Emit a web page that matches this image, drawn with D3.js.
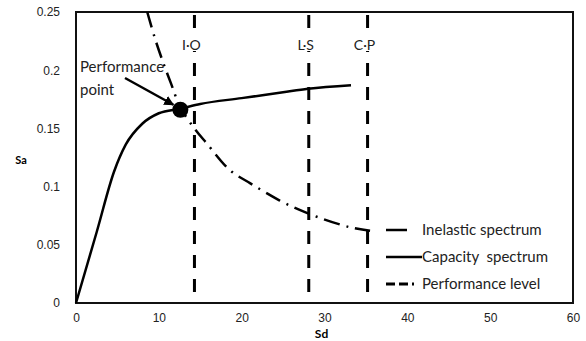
<!DOCTYPE html>
<html>
<head>
<meta charset="utf-8">
<script src="https://cdn.jsdelivr.net/npm/d3@7"></script>
<style>
  body { margin: 0; background: #fff; }
  svg { display: block; font-family: Lato, "Open Sans", sans-serif; }
</style>
</head>
<body>
<svg id="chart" width="586" height="341"></svg>
<script>
// capacity spectrum (Sd, Sa)
const capacitySd = [0, 2.5, 4.6, 6, 8, 10, 12.6, 15, 20, 25, 28, 33.2];
const capacitySa = [0, 0.061, 0.113, 0.136, 0.154, 0.163, 0.167, 0.171, 0.176, 0.181, 0.184, 0.187];

// inelastic demand spectrum (Sd, Sa)
const inelasticSd = [8.6, 9.5, 10.4, 11.5, 12.6, 14.4, 15.8, 18.6, 21, 24.6, 27, 29.5, 33.1, 35.5];
const inelasticSa = [0.25, 0.228, 0.209, 0.188, 0.168, 0.149, 0.137, 0.114, 0.103, 0.088, 0.080, 0.073, 0.065, 0.062];

// performance levels
const levelNames = ["I·O", "L·S", "C·P"];
const levelSd = [14.3, 28.1, 35.2];

const perfPoint = [12.6, 0.166];

const xTicks = [0, 10, 20, 30, 40, 50, 60];
const yTicks = [0, 0.05, 0.1, 0.15, 0.2, 0.25];

const legendNames = ["Inelastic spectrum", "Capacity  spectrum", "Performance level"];

const svg = d3.select("#chart");
const margin = { left: 76, right: 13, top: 12, bottom: 38 };
const width = 586 - margin.left - margin.right;
const height = 341 - margin.top - margin.bottom;

const x = d3.scaleLinear().domain([0, 60]).range([margin.left, margin.left + width]);
const y = d3.scaleLinear().domain([0, 0.25]).range([margin.top + height, margin.top]);

// plot border
svg.append("rect")
  .attr("x", x(0))
  .attr("y", y(0.25))
  .attr("width", x(60) - x(0))
  .attr("height", y(0) - y(0.25))
  .style("fill", "none")
  .style("stroke", "#111")
  .style("stroke-width", 2);

// axes (labels only)
const xAxis = svg.append("g")
  .attr("transform", "translate(0," + y(0) + ")")
  .call(d3.axisBottom(x).tickValues(xTicks).tickSize(0).tickPadding(10).tickFormat(d3.format("d")));
xAxis.select(".domain").remove();
xAxis.selectAll("text").style("font-size", "12px").style("fill", "#222");

const yAxis = svg.append("g")
  .attr("transform", "translate(" + x(0) + ",0)")
  .call(d3.axisLeft(y).tickValues(yTicks).tickSize(0).tickPadding(16)
    .tickFormat(d => d === 0 ? "0" : String(+d.toFixed(2))));
yAxis.select(".domain").remove();
yAxis.selectAll("text").style("font-size", "12px").style("fill", "#222");

svg.append("text")
  .attr("x", (x(0) + x(60)) / 2 - 3)
  .attr("y", 338)
  .style("font-size", "12px")
  .style("font-weight", "bold")
  .attr("text-anchor", "middle")
  .text("Sd");

svg.append("text")
  .attr("x", 21)
  .attr("y", 164)
  .style("font-size", "11px")
  .style("font-weight", "bold")
  .attr("text-anchor", "middle")
  .text("Sa");

// performance level lines
const levels = svg.append("g");
levelSd.forEach((sd, i) => {
  levels.append("line")
    .attr("x1", x(sd)).attr("x2", x(sd))
    .attr("y1", y(0.25) + 3).attr("y2", y(0))
    .style("stroke", "#000")
    .style("stroke-width", 3)
    .style("stroke-dasharray", "13,11");
  levels.append("rect")
    .attr("x", x(sd) - 12).attr("y", 36)
    .attr("width", 24).attr("height", 15)
    .style("fill", "#fff");
  levels.append("text")
    .attr("x", x(sd) - 3)
    .attr("y", 50)
    .attr("text-anchor", "middle")
    .style("font-size", "14px")
    .style("fill", "#222")
    .text(levelNames[i]);
});

// inelastic spectrum
const inelastic = d3.zip(inelasticSd, inelasticSa);
svg.append("path")
  .datum(inelastic)
  .attr("d", d3.line().x(d => x(d[0])).y(d => y(d[1])).curve(d3.curveCatmullRom))
  .style("fill", "none")
  .style("stroke", "#000")
  .style("stroke-width", 2.5)
  .style("stroke-dasharray", "16,7,2,7");

// capacity spectrum
const capacity = d3.zip(capacitySd, capacitySa);
svg.append("path")
  .datum(capacity)
  .attr("d", d3.line().x(d => x(d[0])).y(d => y(d[1])).curve(d3.curveMonotoneX))
  .style("fill", "none")
  .style("stroke", "#000")
  .style("stroke-width", 2.5);

// performance point
svg.append("circle")
  .attr("cx", x(perfPoint[0]))
  .attr("cy", y(perfPoint[1]))
  .attr("r", 8)
  .style("fill", "#000");

svg.append("defs").append("marker")
  .attr("id", "arrow")
  .attr("viewBox", "0 0 10 10")
  .attr("refX", 9).attr("refY", 5)
  .attr("markerWidth", 4).attr("markerHeight", 4)
  .attr("orient", "auto")
  .append("path")
  .attr("d", "M0,0L10,5L0,10z")
  .style("fill", "#000");

svg.append("line")
  .attr("x1", 125).attr("y1", 78)
  .attr("x2", x(perfPoint[0]) - 7).attr("y2", y(perfPoint[1]) - 5)
  .style("stroke", "#000")
  .style("stroke-width", 2.5)
  .attr("marker-end", "url(#arrow)");

svg.append("text")
  .attr("x", 80).attr("y", 72)
  .style("font-size", "15px")
  .style("fill", "#222")
  .text("Performance");
svg.append("text")
  .attr("x", 80).attr("y", 95)
  .style("font-size", "15px")
  .style("fill", "#222")
  .text("point");

// legend
const legend = svg.append("g");
const legendDash = ["21,100", null, "9,4"];
legendNames.forEach((name, i) => {
  const ly = 230 + i * 27;
  legend.append("rect")
    .attr("x", 382).attr("y", ly - 11)
    .attr("width", 180).attr("height", 22)
    .style("fill", "#fff");
  legend.append("line")
    .attr("x1", 386).attr("x2", i === 1 ? 422 : 414)
    .attr("y1", ly).attr("y2", ly)
    .style("stroke", "#000")
    .style("stroke-width", i === 2 ? 3 : 2.5)
    .style("stroke-dasharray", legendDash[i]);
  legend.append("text")
    .attr("x", 422).attr("y", ly + 5)
    .style("font-size", "15px")
    .style("fill", "#222")
    .style("white-space", "pre")
    .text(name);
});
</script>
</body>
</html>
